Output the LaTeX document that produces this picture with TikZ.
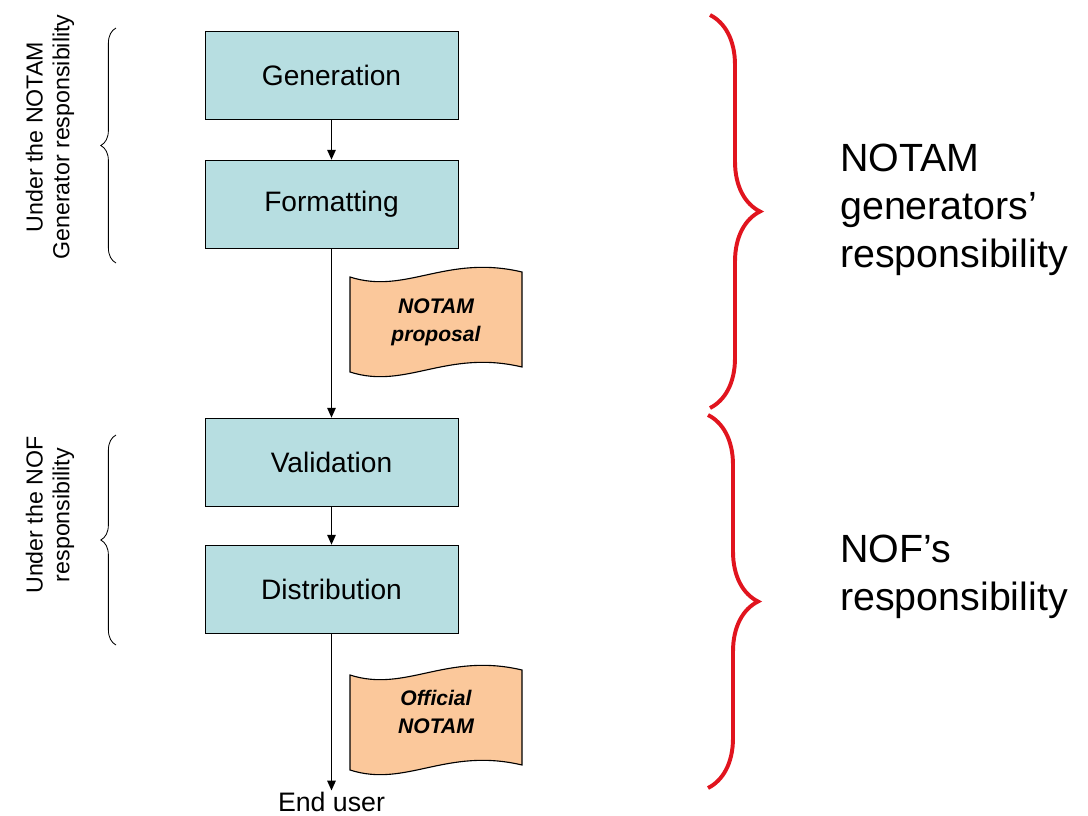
\documentclass[tikz,border=0pt]{standalone}
\usepackage{fontspec}
\setmainfont{Liberation Sans}
\usetikzlibrary{arrows.meta,decorations.pathreplacing}

\definecolor{boxfill}{RGB}{183,222,225}
\definecolor{tapefill}{RGB}{251,200,155}
\definecolor{bracered}{RGB}{225,20,30}

% wavy document outline, centred at (#1,#2)
\newcommand{\tapeshape}[2]{%
  \filldraw[tape,shift={(#1,#2)}] (-86,-43) .. controls (-30,-25) and (10,-66) .. (86,-48)
    -- (86,47) .. controls (10,29) and (-30,70) .. (-86,52) -- cycle;}

\begin{document}
\begin{tikzpicture}[x=0.025cm,y=-0.025cm,
    stage/.style={rectangle,draw,fill=boxfill,minimum width=6.33cm,minimum height=2.2cm,
      font=\fontsize{20}{24}\selectfont},
    tape/.style={draw=black,fill=tapefill,line width=0.8pt},
    tapetext/.style={align=center,font=\fontsize{15}{20}\selectfont\bfseries\itshape},
    flow/.style={-{Triangle[length=7pt,width=6pt]},line width=1pt},
    side/.style={rotate=90,align=center,font=\fontsize{16.5}{19}\selectfont},
    resp/.style={anchor=west,align=left,inner sep=0pt,font=\fontsize{28}{34}\selectfont},
    thinbrace/.style={decorate,decoration={brace,amplitude=0.38cm},line width=0.6pt},
    redbrace/.style={decorate,decoration={brace,amplitude=1.25cm},draw=bracered,line width=2.8pt}]
  \useasboundingbox (0,0) rectangle (1088,816);

  \tapeshape{436}{320}
  \tapeshape{436}{718}

  \path
  (331.5,75) node[stage](gen) {Generation}
  (331.5,204) node[stage](fmt) {Formatting}
  (331.5,462) node[stage](val) {Validation}
  (331.5,589) node[stage](dist) {Distribution}
  (331.5,802) node[font=\fontsize{19}{22}\selectfont,inner sep=1pt](user) {End user}
  (436,322) node[tapetext](prop) {NOTAM\\proposal}
  (436,712) node[tapetext](offi) {Official\\NOTAM};

  \draw[flow] (gen) -- (fmt);
  \draw[flow] (fmt) -- (val);
  \draw[flow] (val) -- (dist);
  \draw[flow] (dist) -- (user);

  % left braces
  \coordinate (b1s) at (116,263);
  \coordinate (b1e) at (116,28);
  \coordinate (b2s) at (116,645);
  \coordinate (b2e) at (116,435);
  \draw[thinbrace] (b1s) -- (b1e);
  \draw[thinbrace] (b2s) -- (b2e);
  \path
  (50,137) node[side](gentext) {Under the NOTAM\\Generator responsibility}
  (50,515) node[side](noftext) {Under the NOF\\responsibility};

  % right braces
  \coordinate (r1s) at (710,15);
  \coordinate (r1e) at (710,408);
  \coordinate (r2s) at (708,415);
  \coordinate (r2e) at (708,788);
  \draw[redbrace] (r1s) -- (r1e);
  \draw[redbrace] (r2s) -- (r2e);
  \path
  (840,210) node[resp](genresp) {NOTAM\\generators'\\responsibility}
  (840,577) node[resp](nofresp) {NOF's\\responsibility};
\end{tikzpicture}
\end{document}
